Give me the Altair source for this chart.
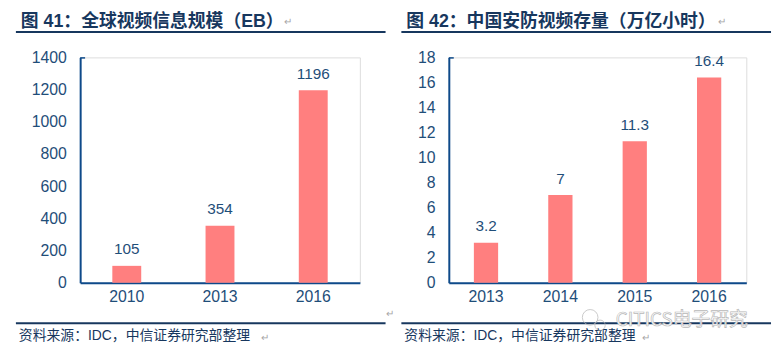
import altair as alt
import pandas as pd

# ---- data ----
years_a = ["2010", "2013", "2016"]
values_a = [105, 354, 1196]
labels_a = ["105", "354", "1196"]
ticks_a = [0, 200, 400, 600, 800, 1000, 1200, 1400]

years_b = ["2013", "2014", "2015", "2016"]
values_b = [3.2, 7, 11.3, 16.4]
labels_b = ["3.2", "7", "11.3", "16.4"]
ticks_b = [0, 2, 4, 6, 8, 10, 12, 14, 16, 18]

title_a = "图 41：全球视频信息规模（EB）"
title_b = "图 42：中国安防视频存量（万亿小时）"
source_text = "资料来源：IDC，中信证券研究部整理"
watermark_text = "CITICS电子研究"
return_mark = "↵"

# ---- style ----
BAR = "#FF7F7F"
AXIS = "#0E4A8A"
LABEL = "#1F4E79"
NAVY = "#17375E"
GRAY = "#A6A6A6"
CJK = "Noto Sans CJK SC"
MIX = "Liberation Sans, Noto Sans CJK SC"
LAT = "Liberation Sans"
H = 228


def txt(s, x, y, size, color, font=CJK, weight="normal", align="left", baseline="middle", **kw):
    return alt.Chart(pd.DataFrame({"t": [s]})).mark_text(
        align=align, baseline=baseline, fontSize=size, font=font,
        fontWeight=weight, color=color, **kw
    ).encode(x=alt.value(x), y=alt.value(y), text="t:N")


def hline(x1, x2, y, color, w):
    return alt.Chart(pd.DataFrame({"a": [0]})).mark_rule(color=color, strokeWidth=w).encode(
        x=alt.value(x1), x2=alt.value(x2), y=alt.value(y)
    )


def panel(years, values, labels, ticks, ymax, width, pi, title, left_off, extra=None, anchor=False):
    df = pd.DataFrame({"year": years, "value": values, "label": labels})
    x = alt.X(
        "year:N", sort=None,
        scale=alt.Scale(paddingInner=pi, paddingOuter=pi / 2),
        axis=alt.Axis(title=None, labelAngle=0, ticks=False, tickSize=0, labelPadding=6,
                      labelFontSize=16, labelFont=LAT, labelColor=LABEL,
                      domainColor=AXIS, domainWidth=2, grid=False),
    )
    y = alt.Y(
        "value:Q",
        scale=alt.Scale(domain=[0, ymax], nice=False),
        axis=alt.Axis(title=None, values=ticks, format="d", ticks=False, tickSize=0,
                      labelPadding=14, labelFontSize=16, labelFont=LAT, labelColor=LABEL,
                      domainColor=AXIS, domainWidth=2, grid=False),
    )
    base = alt.Chart(df).encode(x=x, y=y)
    bars = base.mark_bar(color=BAR)
    vals = base.mark_text(baseline="alphabetic", dy=-11.5, fontSize=15.5, font=LAT,
                          color=LABEL).encode(text="label:N")
    L = left_off
    layers = [
        bars,
        vals,
        hline(0, 5, 0.5, AXIS, 1.5),
        txt(title, -L + 5, -35.8, 18, NAVY, font=MIX, weight="bold"),
        hline(-L, -L + 374, -25.7, NAVY, 2),
        hline(-L, -L + 374, 269, NAVY, 2),
        txt(source_text, -L + 3, 282, 14, NAVY, font=MIX),
    ]
    if extra:
        layers += extra
    if anchor:
        layers.append(
            alt.Chart(pd.DataFrame({"a": [0]})).mark_rect(color="white").encode(
                x=alt.value(-72), x2=alt.value(-71), y=alt.value(-47), y2=alt.value(-46)
            )
        )
    return alt.layer(*layers).properties(width=width, height=H)


extra_a = [
    txt(return_mark, 206, -36, 10, GRAY),
    txt(return_mark, 183, 284, 10, GRAY),
    txt(return_mark, 309, 260, 10, GRAY),
]

icon = pd.DataFrame({"a": [0]})
extra_b = [
    txt(return_mark, 272, -36, 10, GRAY),
    txt(return_mark, 195, 284, 10, GRAY),
    alt.Chart(icon).mark_point(shape="circle", filled=False, color="#B5B5B5", strokeWidth=1).encode(
        x=alt.value(143), y=alt.value(263), size=alt.value(250)),
    alt.Chart(icon).mark_point(shape="circle", filled=False, color="#B5B5B5", strokeWidth=1).encode(
        x=alt.value(153), y=alt.value(271), size=alt.value(110)),
    txt(watermark_text, 169, 266, 19, "white", stroke="#B8B8B8", strokeWidth=0.7),
]

left = panel(years_a, values_a, labels_a, ticks_a, 1400, 283, 0.69, title_a, 65,
             extra=extra_a, anchor=True)
right = panel(years_b, values_b, labels_b, ticks_b, 18, 301, 0.674, title_b, 48,
              extra=extra_b)

chart = alt.hconcat(left, right, spacing=90, bounds="flush", padding=0).configure_view(
    stroke=None
).configure(background="white")

chart.save("out.html", embed_options={"renderer": "svg", "actions": False})
